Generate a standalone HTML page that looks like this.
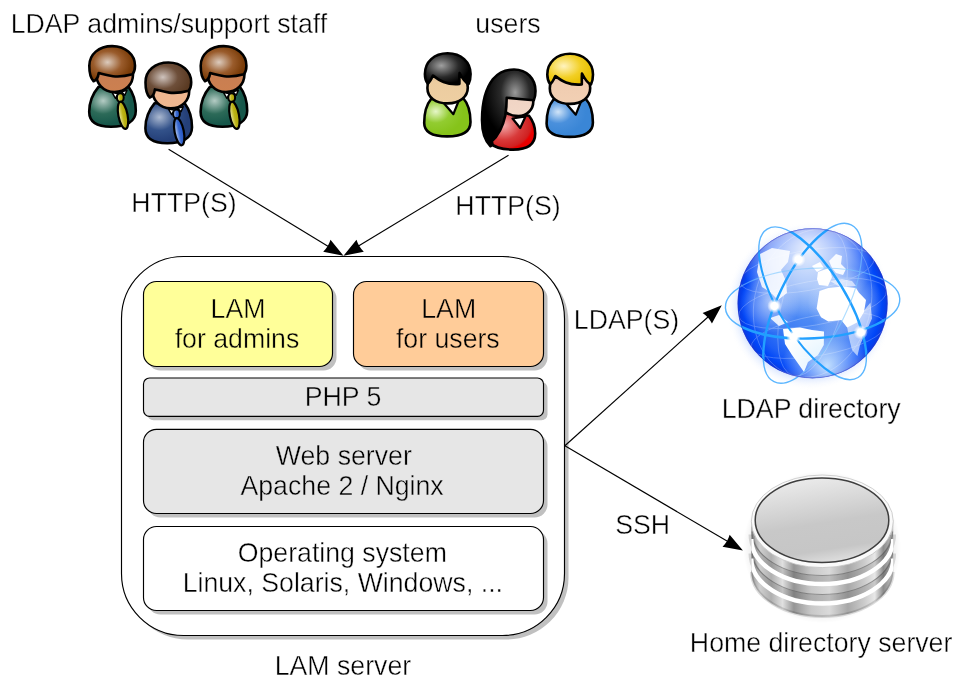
<!DOCTYPE html>
<html><head><meta charset="utf-8">
<style>
html,body{margin:0;padding:0;background:#fff;width:965px;height:688px;overflow:hidden}
svg{display:block}
.body{fill:var(--body)}.face{fill:var(--face)}.hair{fill:var(--hair)}
text{font-family:"Liberation Sans",sans-serif;font-size:26.7px;fill:#000;stroke-width:0.4px}
</style></head><body>
<svg width="965" height="688" viewBox="0 0 965 688">
<defs>
<radialGradient id="gHairBrown" cx="0.4" cy="0.46" r="0.62"><stop offset="0" stop-color="#dccbbd"/><stop offset="0.5" stop-color="#9a5c2c"/><stop offset="0.85" stop-color="#7c3e0a"/><stop offset="1" stop-color="#773806"/></radialGradient>
<radialGradient id="gHairBrown2" cx="0.38" cy="0.42" r="0.6"><stop offset="0" stop-color="#cfc3bd"/><stop offset="0.55" stop-color="#6e4f3a"/><stop offset="1" stop-color="#5a3a22"/></radialGradient>
<radialGradient id="gHairBlack" cx="0.36" cy="0.4" r="0.62"><stop offset="0" stop-color="#a0a0a0"/><stop offset="0.6" stop-color="#2a2a2a"/><stop offset="1" stop-color="#000"/></radialGradient>
<radialGradient id="gHairBlack2" cx="0.62" cy="0.3" r="0.6"><stop offset="0" stop-color="#9a9a9a"/><stop offset="0.45" stop-color="#2a2a2a"/><stop offset="1" stop-color="#000"/></radialGradient>
<radialGradient id="gHairYellow" cx="0.36" cy="0.4" r="0.62"><stop offset="0" stop-color="#fff3c0"/><stop offset="0.6" stop-color="#f2cf24"/><stop offset="1" stop-color="#e8c000"/></radialGradient>
<radialGradient id="gBodyGreenD" cx="0.3" cy="0.35" r="0.6"><stop offset="0" stop-color="#b4ccc4"/><stop offset="0.55" stop-color="#2c6a58"/><stop offset="1" stop-color="#16574a"/></radialGradient>
<radialGradient id="gBodyBlueD" cx="0.3" cy="0.35" r="0.6"><stop offset="0" stop-color="#aab8d0"/><stop offset="0.55" stop-color="#33528a"/><stop offset="1" stop-color="#243f78"/></radialGradient>
<radialGradient id="gBodyGreen" cx="0.25" cy="0.35" r="0.6"><stop offset="0" stop-color="#e6f6c8"/><stop offset="0.5" stop-color="#92cc30"/><stop offset="1" stop-color="#86c31a"/></radialGradient>
<radialGradient id="gBodyRed" cx="0.3" cy="0.35" r="0.65"><stop offset="0" stop-color="#f2aaaa"/><stop offset="0.6" stop-color="#d83a3a"/><stop offset="0.92" stop-color="#d02020"/><stop offset="1" stop-color="#e80000"/></radialGradient>
<radialGradient id="gBodyBlue" cx="0.25" cy="0.35" r="0.6"><stop offset="0" stop-color="#d0e4f8"/><stop offset="0.5" stop-color="#4a90dc"/><stop offset="1" stop-color="#3a86d6"/></radialGradient>
<linearGradient id="gTieY" x1="0" y1="0" x2="1" y2="0"><stop offset="0" stop-color="#f0eeb0"/><stop offset="0.5" stop-color="#bdb418"/><stop offset="1" stop-color="#aaa000"/></linearGradient>
<linearGradient id="gTieB" x1="0" y1="0" x2="1" y2="0"><stop offset="0" stop-color="#c8d8f8"/><stop offset="0.5" stop-color="#3a6ad0"/><stop offset="1" stop-color="#2050c0"/></linearGradient>
<linearGradient id="gSkinA" x1="0" y1="0" x2="0" y2="1"><stop offset="0" stop-color="#a8603a"/><stop offset="0.35" stop-color="#c87e52"/><stop offset="1" stop-color="#cc8050"/></linearGradient>
<linearGradient id="gSkinB" x1="0" y1="0" x2="0" y2="1"><stop offset="0" stop-color="#d8a080"/><stop offset="0.35" stop-color="#eeb690"/><stop offset="1" stop-color="#f0b890"/></linearGradient>
<linearGradient id="gSkinC" x1="0" y1="0" x2="0" y2="1"><stop offset="0" stop-color="#c0a080"/><stop offset="0.35" stop-color="#eccca0"/><stop offset="1" stop-color="#eecfa2"/></linearGradient>
<linearGradient id="gSkinD" x1="0" y1="0" x2="0" y2="1"><stop offset="0" stop-color="#c0a090"/><stop offset="0.35" stop-color="#f0d4c4"/><stop offset="1" stop-color="#f2d8c8"/></linearGradient>
<linearGradient id="gSkinE" x1="0" y1="0" x2="0" y2="1"><stop offset="0" stop-color="#c8a088"/><stop offset="0.35" stop-color="#f0ccb0"/><stop offset="1" stop-color="#f2d0b4"/></linearGradient>
<g id="admin-shape">
 <path class="body" d="M10.5,42 C5,48.5 1.2,58 1.2,67 C1.2,77 9,82 23,82 C38,82 47.8,77 47.8,66 C47.8,56 45,48 40.5,42 Z"/>
 <path d="M24,47.5 L27.5,53.5 L30,49 Z M33.5,47 L36.8,50.5 L39,45.5 Z" fill="#fff" stroke="#000" stroke-width="1.5" stroke-linejoin="round"/>
 <path class="face" d="M8.6,29 C7.6,38 15,47.2 26.5,47.2 C38,47.2 45,39 45,30 C45,22 38,16 26.5,16 C16,16 9.5,21 8.6,29 Z"/>
 <ellipse cx="32.3" cy="52.8" rx="3.4" ry="4.4" fill="var(--tie)" stroke-width="2"/>
 <ellipse cx="0" cy="0" rx="4.6" ry="13.8" transform="translate(35,70.5) rotate(-11)" fill="var(--tie)" stroke-width="2.2"/>
 <path class="hair" d="M5.6,36.4 C1.6,32.5 1.3,26 1.3,21 C1.3,9.5 10.8,1.3 24.2,1.3 C37.5,1.3 47,10 47,21 C47,24.5 46.2,27.5 44.5,29.5 C36,31.8 30,32 25,31.4 C19,30.6 14,29 10.7,28.2 C10.3,31.5 9,35.2 5.6,36.4 Z"/>
</g>
<g id="user-shape">
 <path class="body" d="M7.5,47 C2.5,53 0.6,62 0.6,71 C0.6,80.5 9.5,84.4 23.5,84.4 C38.5,84.4 46.9,80 46.9,70 C46.9,60 44,51 39.5,46 Z"/>
 <path d="M20.5,51.5 L29.8,62.2 L35,49 Z" fill="#fff" stroke="#000" stroke-width="2.2" stroke-linejoin="round"/>
 <path class="face" d="M3.8,36 C3.8,45.5 12,51.4 24,51.4 C36,51.4 44.2,45 44.2,35.5 C44.2,26 36,18 24,18 C12,18 3.8,26 3.8,36 Z"/>
 <path class="hair" d="M4,31.5 C1.8,28.5 1.3,25 1.3,22 C1.3,10 10.5,1.3 24,1.3 C37.5,1.3 47,10 47,22 C47,26 46.2,29.5 45,32 C41,30.5 38.5,26 36,21 C35.5,25 36,29 35.8,32 C30,32.5 25,32 20,30 C16,28.5 12,25.5 9.3,23.5 C8,26.5 6.5,30.5 4,31.5 Z"/>
</g>

<g id="girl">
 <path d="M500,112 C509,114 521,114.5 529,115.8 C533.5,121.5 535.2,127 535.2,133.5 C535.2,144.5 527,149.6 513,149.6 C502,149.6 494,147 490,143 C492,135 496,125 500,112 Z" fill="url(#gBodyRed)"/>
 <path d="M512.5,118.5 L520.2,128 L525.5,116.5 Z" fill="#fff" stroke-width="2.2"/>
 <path d="M500,101 C500,110 508,116 518.5,116 C527,116 533.3,109.5 533.3,101.5 C533.3,93.5 527,88 519,88 C508,88 500,93 500,101 Z" fill="url(#gSkinD)"/>
 <path d="M490.5,146.2 C484,140 482,130 482,120 C482,106 484.5,90 493,79 C499,72 506,69.5 514,69.5 C527,69.5 535.5,79 535.5,91 C535.5,94.5 535,97.5 533.8,100.3 C525,99.5 515,98.5 506.7,97.7 C506.7,103 506.3,109 505.3,115.5 C503,126 498,136 491.5,141.5 C493,143.5 492.5,145.5 490.5,146.2 Z" fill="url(#gHairBlack2)"/>
</g>
</defs>

<!-- outer box shadow + box -->
<rect x="125.5" y="260.5" width="443" height="379" rx="62" fill="#c0c0c0"/>
<rect x="121.5" y="256.5" width="443" height="379" rx="62" fill="#fff" stroke="#000" stroke-width="1.15"/>
<!-- inner boxes -->
<rect x="147.5" y="285.5" width="189" height="85" rx="13" fill="#c0c0c0"/>
<rect x="143.5" y="281.5" width="189" height="85" rx="13" fill="#ffff99" stroke="#000" stroke-width="1.15"/>
<rect x="357.5" y="285.5" width="190" height="85" rx="13" fill="#c0c0c0"/>
<rect x="353.5" y="281.5" width="190" height="85" rx="13" fill="#ffcc99" stroke="#000" stroke-width="1.15"/>
<rect x="147.5" y="382" width="400" height="38.3" rx="6" fill="#c0c0c0"/>
<rect x="143.5" y="378" width="400" height="38.3" rx="6" fill="#e6e6e6" stroke="#000" stroke-width="1.15"/>
<rect x="147.5" y="433.4" width="400" height="84.1" rx="13" fill="#c0c0c0"/>
<rect x="143.5" y="429.4" width="400" height="84.1" rx="13" fill="#e6e6e6" stroke="#000" stroke-width="1.15"/>
<rect x="147.5" y="530.5" width="400" height="84" rx="13" fill="#c0c0c0"/>
<rect x="143.5" y="526.5" width="400" height="84" rx="13" fill="#fff" stroke="#000" stroke-width="1.15"/>


<g stroke="#000" stroke-width="2.6" stroke-linejoin="round">
<g transform="translate(88,44.8)" style="--body:url(#gBodyGreenD);--face:url(#gSkinA);--hair:url(#gHairBrown);--tie:url(#gTieY)"><use href="#admin-shape"/></g>
<g transform="translate(199.4,44.8)" style="--body:url(#gBodyGreenD);--face:url(#gSkinA);--hair:url(#gHairBrown);--tie:url(#gTieY)"><use href="#admin-shape"/></g>
<g transform="translate(144.2,61.2)" style="--body:url(#gBodyBlueD);--face:url(#gSkinB);--hair:url(#gHairBrown2);--tie:url(#gTieB)"><use href="#admin-shape"/></g>
<g transform="translate(423.6,52)" style="--body:url(#gBodyGreen);--face:url(#gSkinC);--hair:url(#gHairBlack)"><use href="#user-shape"/></g>
<use href="#girl"/>
<g transform="translate(546,52.5)" style="--body:url(#gBodyBlue);--face:url(#gSkinE);--hair:url(#gHairYellow)"><use href="#user-shape"/></g>
</g>

<!-- text -->
<g id="texts" style="will-change:transform">
<text transform="translate(238.0,318.0) scale(1,1.02)" x="0" y="0" text-anchor="middle" stroke="#ffff99" class="t">LAM</text>
<text transform="translate(237.0,348.0) scale(1,1.02)" x="0" y="0" text-anchor="middle" stroke="#ffff99" class="t">for admins</text>
<text transform="translate(448.7,318.0) scale(1,1.02)" x="0" y="0" text-anchor="middle" stroke="#ffcc99" class="t">LAM</text>
<text transform="translate(447.8,348.0) scale(1,1.02)" x="0" y="0" text-anchor="middle" stroke="#ffcc99" class="t">for users</text>
<text transform="translate(343.0,406.1) scale(1,1.02)" x="0" y="0" text-anchor="middle" stroke="#e6e6e6" class="t">PHP 5</text>
<text transform="translate(343.8,465.1) scale(1,1.02)" x="0" y="0" text-anchor="middle" stroke="#e6e6e6" class="t">Web server</text>
<text transform="translate(342.1,495.4) scale(1,1.02)" x="0" y="0" text-anchor="middle" stroke="#e6e6e6" class="t">Apache 2 / Nginx</text>
<text transform="translate(342.3,562.2) scale(1,1.02)" x="0" y="0" text-anchor="middle" stroke="#fff" class="t">Operating system</text>
<text transform="translate(342.8,592.1) scale(1,1.02)" x="0" y="0" text-anchor="middle" stroke="#fff" class="t">Linux, Solaris, Windows, ...</text>
<text transform="translate(342.9,675.1) scale(1,1.02)" x="0" y="0" text-anchor="middle" stroke="#fff" class="t">LAM server</text>
<text transform="translate(168.9,32.9) scale(1,1.02)" x="0" y="0" text-anchor="middle" stroke="#fff" class="t">LDAP admins/support staff</text>
<text transform="translate(508.0,32.9) scale(1,1.02)" x="0" y="0" text-anchor="middle" stroke="#fff" class="t">users</text>
<text transform="translate(184.0,212.3) scale(1,1.02)" x="0" y="0" text-anchor="middle" stroke="#fff" class="t">HTTP(S)</text>
<text transform="translate(508.0,215.1) scale(1,1.02)" x="0" y="0" text-anchor="middle" stroke="#fff" class="t">HTTP(S)</text>
<text transform="translate(626.5,329.2) scale(1,1.02)" x="0" y="0" text-anchor="middle" stroke="#fff" class="t">LDAP(S)</text>
<text transform="translate(811.2,418.0) scale(1,1.02)" x="0" y="0" text-anchor="middle" stroke="#e6e6e6" class="t">LDAP directory</text>
<text transform="translate(642.7,533.9) scale(1,1.02)" x="0" y="0" text-anchor="middle" stroke="#fff" class="t">SSH</text>
<text transform="translate(821.1,651.9) scale(1,1.02)" x="0" y="0" text-anchor="middle" stroke="#fff" class="t">Home directory server</text>

</g>
<!-- arrows -->
<g stroke="#000" stroke-width="1.15" fill="none">
<line x1="168.6" y1="149.2" x2="330" y2="247.5"/>
<line x1="508.5" y1="155.3" x2="356" y2="247.5"/>
<line x1="564.9" y1="445.8" x2="708" y2="317"/>
<line x1="564.9" y1="445.8" x2="727" y2="541"/>
</g>
<defs>
<radialGradient id="gSphere" cx="0.5" cy="0.5" r="0.5">
 <stop offset="0" stop-color="#5a94f6"/>
 <stop offset="0.55" stop-color="#3a7af4"/>
 <stop offset="0.8" stop-color="#1c5ef6"/>
 <stop offset="0.92" stop-color="#0046f8"/>
 <stop offset="1" stop-color="#0a3ae0"/>
</radialGradient>
<radialGradient id="gHaze" cx="0.47" cy="0.14" r="0.46">
 <stop offset="0" stop-color="#fff" stop-opacity="0.9"/>
 <stop offset="0.55" stop-color="#fff" stop-opacity="0.55"/>
 <stop offset="1" stop-color="#fff" stop-opacity="0"/>
</radialGradient>
<radialGradient id="gHaze2" cx="0.6" cy="0.92" r="0.3">
 <stop offset="0" stop-color="#d8f0ff" stop-opacity="0.9"/>
 <stop offset="1" stop-color="#d8f0ff" stop-opacity="0"/>
</radialGradient>
<radialGradient id="gHaze3" cx="0.72" cy="0.5" r="0.25">
 <stop offset="0" stop-color="#fff" stop-opacity="0.6"/>
 <stop offset="1" stop-color="#fff" stop-opacity="0"/>
</radialGradient>
<radialGradient id="gHaze4" cx="0.22" cy="0.5" r="0.2">
 <stop offset="0" stop-color="#fff" stop-opacity="0.55"/>
 <stop offset="1" stop-color="#fff" stop-opacity="0"/>
</radialGradient>
<radialGradient id="gGlow" cx="0.5" cy="0.5" r="0.5">
 <stop offset="0.82" stop-color="#6a9cff" stop-opacity="0.35"/>
 <stop offset="1" stop-color="#fff" stop-opacity="0"/>
</radialGradient>
<radialGradient id="gNode" cx="0.5" cy="0.5" r="0.5">
 <stop offset="0" stop-color="#fff"/>
 <stop offset="0.5" stop-color="#fff"/>
 <stop offset="1" stop-color="#fff" stop-opacity="0"/>
</radialGradient>
<clipPath id="cSphere"><circle cx="812.6" cy="303.3" r="75"/></clipPath>
</defs>
<circle cx="810" cy="306" r="84" fill="url(#gGlow)"/>
<g fill="none" stroke="#40aaff" stroke-width="1.4" opacity="0.85">
 <ellipse cx="0" cy="0" rx="87.3" ry="35" transform="translate(812.6,303.3) rotate(-3)"/>
 <ellipse cx="0" cy="0" rx="33.5" ry="87" transform="translate(812.6,303.3) rotate(-31.5)"/>
 <ellipse cx="0" cy="0" rx="34.2" ry="87.4" transform="translate(812.6,303.3) rotate(26.2)"/>
</g>
<circle cx="812.6" cy="303.3" r="75" fill="url(#gSphere)"/>
<g clip-path="url(#cSphere)">
 <rect x="737" y="228" width="150" height="150" fill="url(#gHaze)"/>
 <rect x="737" y="228" width="150" height="150" fill="url(#gHaze3)"/>
 <rect x="737" y="228" width="150" height="150" fill="url(#gHaze4)"/>
 <g fill="#fff">
  <!-- Africa -->
  <path d="M819.5,291 L828.3,288.1 L842.8,286.6 L856,288 L858.8,292.5 L866,300 L864,312 L858,322 L847.2,327.4 L841.4,320 L828.3,321.5 L821,317.2 L816.6,308.5 Z"/>
  <path d="M841.4,320 L858,318 L870.5,302.6 L872,318.6 L866,332 L860,345 L857.4,356 L852,350 L849,338 L847.2,327.4 Z" opacity="0.6"/>
  <!-- Europe -->
  <path d="M818,272 L829,268 L832,277 L828,286 L819,285 L817,279 Z"/>
  <path d="M812,266 L820,262 L824,268 L817,272 Z"/>
  <path d="M829,261 L836,254 L842,256 L841,264 L846,269 L843,275 L836,273 L832,268 Z" opacity="0.9"/>
  <path d="M830,281 L842,279 L852,281 L856,286 L840,287 Z" opacity="0.6"/>
  <!-- South America -->
  <path d="M783,329 L800,327.5 L812,330 L824,331.4 L823.8,345 L818,355 L808,362 L804,372 L797,362 L792,355 L785,344 Z"/>
  <!-- North America + Greenland -->
  <path d="M760,254 L772,248 L790,251 L788,262 L781,270 L786,281 L787,293 L778,300 L770,292 L762,287 L757,272 Z" opacity="0.85"/>
  <path d="M770,318 L779,315 L788,322 L779,326 Z" opacity="0.85"/>
 </g>
 <rect x="737" y="228" width="150" height="150" fill="url(#gHaze2)"/>
 <g fill="none" stroke="#fff" stroke-width="0.8" opacity="0.28">
  <ellipse cx="812.6" cy="303.3" rx="30" ry="75" transform="rotate(15 812.6 303.3)"/>
  <ellipse cx="812.6" cy="303.3" rx="58" ry="75" transform="rotate(15 812.6 303.3)"/>
  <ellipse cx="812.6" cy="303.3" rx="75" ry="22" transform="rotate(-10 812.6 303.3)"/>
  <ellipse cx="812.6" cy="270" rx="68" ry="20" transform="rotate(-10 812.6 303.3)"/>
  <ellipse cx="812.6" cy="336" rx="68" ry="20" transform="rotate(-10 812.6 303.3)"/>
 </g>
 <g fill="none" stroke="#22a0ff" stroke-width="2.4">
  <path d="M-87.3,0 A87.3,35 0 0 0 87.3,0" transform="translate(812.6,303.3) rotate(-3)"/>
  <path d="M0,-87 A33.5,87 0 0 1 0,87" transform="translate(812.6,303.3) rotate(-31.5)"/>
  <path d="M0,-87 A33.5,87 0 0 0 0,87" transform="translate(812.6,303.3) rotate(-31.5)" stroke-width="2"/>
  <path d="M0,-87.4 A34.2,87.4 0 0 0 0,87.4" transform="translate(812.6,303.3) rotate(26.2)"/>
 </g>
 <g fill="none" stroke="#7cc8ff" stroke-width="1.2" opacity="0.6">
  <path d="M-87.3,0 A87.3,35 0 0 1 87.3,0" transform="translate(812.6,303.3) rotate(-3)"/>
  <path d="M0,-87.4 A34.2,87.4 0 0 1 0,87.4" transform="translate(812.6,303.3) rotate(26.2)"/>
 </g>
</g>
<circle cx="812.6" cy="303.3" r="74.6" fill="none" stroke="#3030c0" stroke-width="1" opacity="0.45"/>
<g fill="url(#gNode)">
 <circle cx="798.5" cy="259.5" r="7.2"/>
 <circle cx="774.4" cy="306" r="7.2"/>
 <circle cx="860.7" cy="332.3" r="7.2"/>
 <circle cx="793.6" cy="337.1" r="7.2"/>
</g>
<defs>
<linearGradient id="gMetal" x1="0" y1="0" x2="1" y2="0">
 <stop offset="0" stop-color="#9a9a9a"/>
 <stop offset="0.06" stop-color="#cfcfcf"/>
 <stop offset="0.14" stop-color="#b0b0b0"/>
 <stop offset="0.22" stop-color="#e0e0e0"/>
 <stop offset="0.3" stop-color="#959595"/>
 <stop offset="0.42" stop-color="#c8c8c8"/>
 <stop offset="0.55" stop-color="#dadada"/>
 <stop offset="0.68" stop-color="#a8a8a8"/>
 <stop offset="0.8" stop-color="#cdcdcd"/>
 <stop offset="0.87" stop-color="#e8e8e8"/>
 <stop offset="0.93" stop-color="#8c8c8c"/>
 <stop offset="1" stop-color="#c4c4c4"/>
</linearGradient>
<linearGradient id="gFace" x1="0.3" y1="0" x2="0.55" y2="1">
 <stop offset="0" stop-color="#ececec"/>
 <stop offset="0.55" stop-color="#c8c8c8"/>
 <stop offset="0.85" stop-color="#c6c6c6"/>
 <stop offset="1" stop-color="#dedede"/>
</linearGradient>
<radialGradient id="gDbShadow" cx="0.5" cy="0.5" r="0.5">
 <stop offset="0.82" stop-color="#000" stop-opacity="0.1"/>
 <stop offset="1" stop-color="#000" stop-opacity="0"/>
</radialGradient>
<clipPath id="cDb"><path d="M751.3,520 L751.3,572 A71,45 0 0 0 893.3,572 L893.3,520 Z"/></clipPath>
</defs>
<ellipse cx="822" cy="547" rx="79" ry="76" fill="url(#gDbShadow)"/>
<path d="M751.3,520 L751.3,572 A71,45 0 0 0 893.3,572 L893.3,520 Z" fill="url(#gMetal)"/>
<g fill="none" stroke="#000" opacity="0.13" stroke-width="6">
 <path d="M751.5,534.5 A70.8,44.5 0 0 0 893.1,534.5"/>
 <path d="M751.5,553.5 A70.8,44.5 0 0 0 893.1,553.5"/>
 <path d="M751.5,572 A70.8,44.5 0 0 0 893.1,572" stroke-width="3"/>
</g>
<g fill="none" stroke="#555" stroke-width="1.1" opacity="0.55">
 <path d="M752,531.5 A70.3,44 0 0 0 892.6,531.5"/>
 <path d="M752,550.5 A70.3,44 0 0 0 892.6,550.5"/>
</g>
<g fill="none" stroke="#fff" stroke-width="4.4" clip-path="url(#cDb)">
 <path d="M751.3,539 A71,45 0 0 0 893.3,539"/>
 <path d="M751.3,558.5 A71,45 0 0 0 893.3,558.5"/>
</g>
<ellipse cx="822.3" cy="521.3" rx="71" ry="46.3" fill="#fafafa" stroke="#c4c4c4" stroke-width="0.8"/>
<ellipse cx="822" cy="520.3" rx="66.8" ry="42.2" fill="url(#gFace)" stroke="#3e3e3e" stroke-width="1.5"/>
<g fill="#000">
<path d="M343.50,255.80 L323.21,251.63 Q328.39,246.59 330.49,239.67 Z"/>
<path d="M343.50,255.80 L356.51,239.68 Q358.62,246.59 363.80,251.63 Z"/>
<path d="M721.80,305.20 L711.95,323.43 Q708.62,317.01 702.61,313.00 Z"/>
<path d="M742.90,550.60 L722.54,546.74 Q727.65,541.62 729.65,534.67 Z"/>
</g>

</svg>
</body></html>
